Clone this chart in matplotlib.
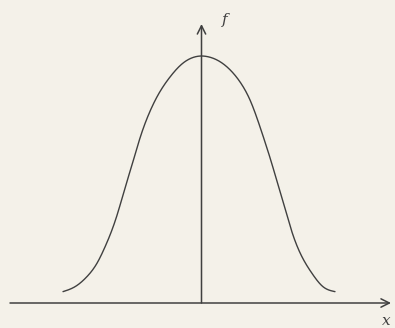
import numpy as np
import matplotlib
matplotlib.use("Agg")
import matplotlib.pyplot as plt

# Curve samples (x in arbitrary units, f normalised to peak = 1)
x_vals = [-3.957, -3.614, -3.271, -2.986, -2.757, -2.557, -2.386, -2.186, -1.986, -1.757,
          -1.529, -1.243, -0.900, -0.557, -0.243, 0.0,
          0.186, 0.529, 0.871, 1.157, 1.386, 1.614, 1.814, 1.986, 2.186, 2.386,
          2.614, 2.871, 3.157, 3.471, 3.814]
f_vals = [0.046, 0.066, 0.107, 0.161, 0.227, 0.296, 0.368, 0.466, 0.559, 0.668,
          0.757, 0.842, 0.915, 0.968, 0.994, 1.0,
          0.997, 0.977, 0.936, 0.883, 0.822, 0.737, 0.652, 0.575, 0.478, 0.381,
          0.275, 0.187, 0.120, 0.066, 0.046]
axis_labels = ["x", "f"]

BG = "#f4f1e9"
INK = "#404040"


def natural_spline(xs, ys, num=800):
    x = np.asarray(xs, float)
    y = np.asarray(ys, float)
    n = len(x)
    h = np.diff(x)
    A = np.zeros((n, n))
    b = np.zeros(n)
    A[0, 0] = A[-1, -1] = 1.0
    for i in range(1, n - 1):
        A[i, i - 1] = h[i - 1]
        A[i, i] = 2 * (h[i - 1] + h[i])
        A[i, i + 1] = h[i]
        b[i] = 3 * ((y[i + 1] - y[i]) / h[i] - (y[i] - y[i - 1]) / h[i - 1])
    c = np.linalg.solve(A, b)
    bb = (y[1:] - y[:-1]) / h - h * (2 * c[:-1] + c[1:]) / 3
    d = (c[1:] - c[:-1]) / (3 * h)
    xx = np.linspace(x[0], x[-1], num)
    idx = np.clip(np.searchsorted(x, xx) - 1, 0, n - 2)
    t = xx - x[idx]
    yy = y[idx] + bb[idx] * t + c[idx] * t ** 2 + d[idx] * t ** 3
    return xx, yy


fig = plt.figure(figsize=(3.95, 3.28), dpi=100)
fig.patch.set_facecolor(BG)
ax = fig.add_axes([0, 0, 1, 1])
ax.set_facecolor(BG)
ax.set_xlim(-201.5 / 35, (395 - 201.5) / 35)
ax.set_ylim(-25 / 247, 303 / 247)
ax.axis("off")

sx, sy = natural_spline(x_vals, f_vals)
ax.plot(sx, sy, color=INK, lw=1.0, solid_capstyle="round")

# axes arrows
x_left = (10 - 201.5) / 35
x_right = (391 - 201.5) / 35
f_top = (303 - 24) / 247
arrow = dict(arrowstyle="->,head_length=0.6,head_width=0.3", color=INK, lw=1.1,
             shrinkA=0, shrinkB=0)
ax.annotate("", xy=(x_right, 0), xytext=(x_left, 0), arrowprops=arrow)
ax.annotate("", xy=(0, f_top), xytext=(0, 0), arrowprops=arrow)

ax.text((225 - 201.5) / 35, (303 - 20) / 247, axis_labels[1], fontsize=11, style="italic",
        family="DejaVu Serif", color=INK, ha="center", va="center")
ax.text((386 - 201.5) / 35, (303 - 321) / 247, axis_labels[0], fontsize=11, style="italic",
        family="DejaVu Serif", color=INK, ha="center", va="center")

fig.savefig("out.png", dpi=100, facecolor=BG)
